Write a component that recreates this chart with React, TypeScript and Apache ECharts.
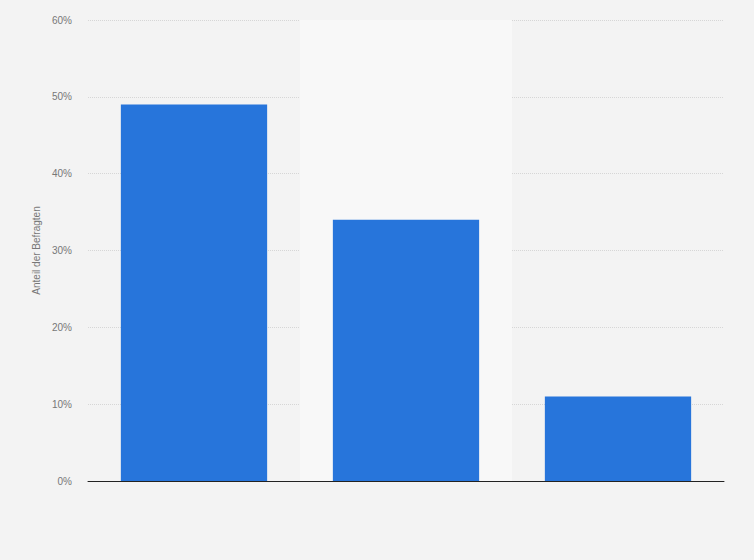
import React, { useEffect, useRef } from 'react';
import * as echarts from 'echarts';

const categories = ['Antwort 1', 'Antwort 2', 'Antwort 3'];
const shares = [49, 34, 11];
const yTicks = { min: 0, max: 60, interval: 10 };

const App: React.FC = () => {
  const chartRef = useRef<HTMLDivElement>(null);

  useEffect(() => {
    if (!chartRef.current) return;
    const chart = echarts.init(chartRef.current, undefined, { renderer: 'svg' });

    const font = 'Liberation Sans, Arial, Helvetica, sans-serif';

    const option: echarts.EChartsOption = {
      animation: false,
      backgroundColor: '#f3f3f3',
      textStyle: { fontFamily: font },
      grid: {
        left: 88,
        right: 30,
        top: 20,
        bottom: 79,
      },
      xAxis: {
        type: 'category',
        data: categories,
        axisLine: { lineStyle: { color: '#222', width: 1 } },
        axisTick: { show: false },
        axisLabel: { show: false },
        splitArea: {
          show: true,
          areaStyle: { color: ['rgba(0,0,0,0)', '#f8f8f8'] },
        },
      },
      yAxis: {
        type: 'value',
        min: yTicks.min,
        max: yTicks.max,
        interval: yTicks.interval,
        name: 'Anteil der Befragten',
        nameLocation: 'middle',
        nameGap: 44,
        nameTextStyle: { color: '#777', fontSize: 10, fontFamily: font },
        axisLine: { show: false },
        axisTick: { show: false },
        axisLabel: {
          formatter: '{value}%',
          color: '#777',
          fontSize: 10,
          margin: 16,
          fontFamily: font,
        },
        splitLine: {
          lineStyle: { color: '#d6d6d6', type: 'dotted', width: 1 },
        },
      },
      series: [
        {
          name: 'Anteil der Befragten',
          type: 'bar',
          data: shares,
          barWidth: '69%',
          itemStyle: { color: '#2775db' },
        },
      ],
    };

    chart.setOption(option);

    return () => {
      chart.dispose();
    };
  }, []);

  return (
    <div
      ref={chartRef}
      style={{ position: 'fixed', left: 0, top: 0, width: '754px', height: '560px' }}
    />
  );
};

export default App;
